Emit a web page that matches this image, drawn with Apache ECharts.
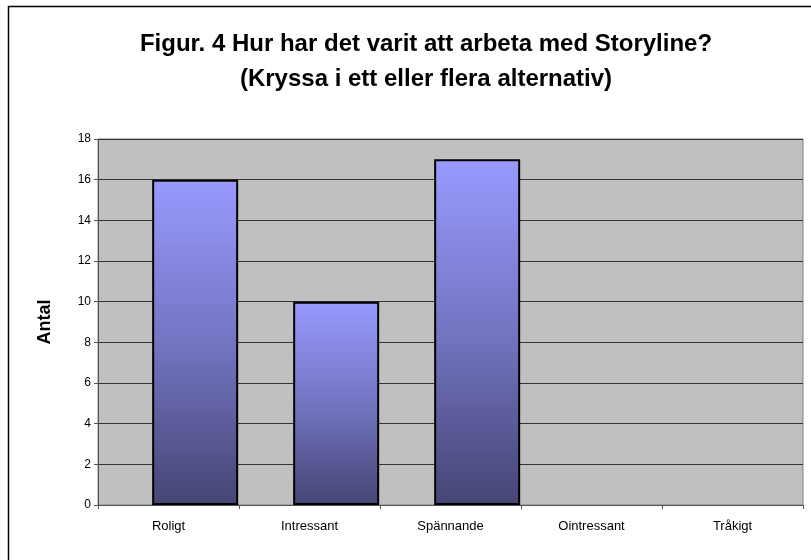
<!DOCTYPE html>
<html>
<head>
<meta charset="utf-8">
<script src="https://cdn.jsdelivr.net/npm/echarts@6/dist/echarts.min.js"></script>
<style>
    html, body {margin: 0; padding: 0; background: #fff;}
    #chart {width: 811px; height: 560px;}
</style>
</head>
<body>
<div id="chart"></div>
<script>
    // kategorier och antal svar
    var categories = ['Roligt', 'Intressant', 'Spännande', 'Ointressant', 'Tråkigt'];
    var antal = [16, 10, 17, 0, 0];
    var tom = [null, null, null, null, null];   // tom serie som i Excel-diagrammet
    var yTicks = [0, 2, 4, 6, 8, 10, 12, 14, 16, 18];

    var myChart = echarts.init(document.getElementById('chart'));

    // nollstaplar ska inte få någon kantlinje
    var barData = antal.map(function (v) {
        return v === 0 ? {value: v, itemStyle: {borderWidth: 0}} : v;
    });

    var option = {
        backgroundColor: '#fff',
        animation: false,
        graphic: [{
            type: 'rect',
            shape: {x: 8.5, y: 6.5, width: 900, height: 700},
            style: {fill: 'none', stroke: '#000', lineWidth: 1.5},
            silent: true
        }],
        title: {
            text: 'Figur. 4 Hur har det varit att arbeta med Storyline?\n(Kryssa i ett eller flera alternativ)',
            left: 421,
            top: 22,
            textAlign: 'center',
            textStyle: {
                fontFamily: 'Liberation Sans, Arial',
                fontSize: 24,
                fontWeight: 'bold',
                color: '#000',
                lineHeight: 35
            }
        },
        grid: {
            left: 98,
            top: 139,
            right: 8,
            bottom: 55,
            show: true,
            backgroundColor: '#c0c0c0',
            borderColor: '#808080',
            borderWidth: 1
        },
        xAxis: {
            type: 'category',
            data: categories,
            axisLine: {lineStyle: {color: '#555', width: 1}},
            axisTick: {show: true, alignWithLabel: false, length: 4, lineStyle: {color: '#555'}},
            axisLabel: {
                fontFamily: 'Liberation Sans, Arial',
                fontSize: 13,
                color: '#000',
                margin: 15
            }
        },
        yAxis: {
            type: 'value',
            min: yTicks[0],
            max: yTicks[yTicks.length - 1],
            interval: 2,
            name: 'Antal',
            nameLocation: 'middle',
            nameGap: 44,
            nameTextStyle: {
                fontFamily: 'Liberation Sans, Arial',
                fontSize: 18,
                fontWeight: 'bold',
                color: '#000'
            },
            axisLine: {show: true, lineStyle: {color: '#555', width: 1}},
            axisTick: {show: true, length: 4, lineStyle: {color: '#555'}},
            axisLabel: {
                fontFamily: 'Liberation Sans, Arial',
                fontSize: 12,
                color: '#000',
                margin: 7
            },
            splitLine: {lineStyle: {color: '#333', width: 1}}
        },
        series: [{
            type: 'bar',
            data: tom,
            barWidth: '61%',
            barGap: '-38%'
        }, {
            type: 'bar',
            data: barData,
            barWidth: '61%',
            barGap: '-38%',
            itemStyle: {
                borderColor: '#000',
                borderWidth: 2,
                color: new echarts.graphic.LinearGradient(0, 0, 0, 1, [
                    {offset: 0, color: '#9999ff'},
                    {offset: 0.5, color: '#7474c2'},
                    {offset: 1, color: '#454575'}
                ])
            }
        }]
    };

    myChart.setOption(option);
</script>
</body>
</html>
